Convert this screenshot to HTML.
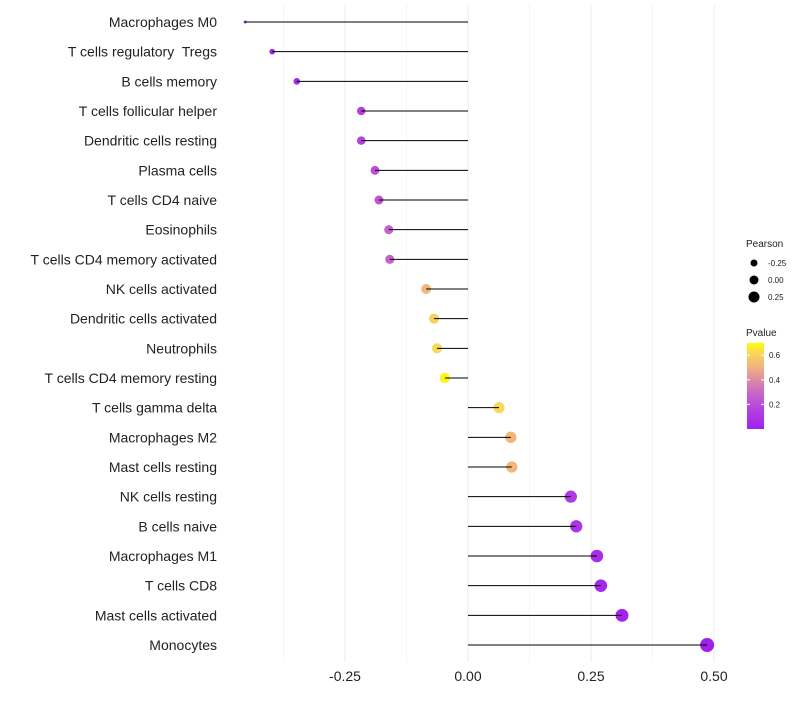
<!DOCTYPE html>
<html><head><meta charset="utf-8"><style>
body{margin:0;background:#fff;font-family:"Liberation Sans",sans-serif}
text{white-space:pre}
</style></head><body>
<svg id="chart" width="800" height="700" xmlns="http://www.w3.org/2000/svg"></svg>
<script>
const categories=["Macrophages M0","T cells regulatory  Tregs","B cells memory","T cells follicular helper","Dendritic cells resting","Plasma cells","T cells CD4 naive","Eosinophils","T cells CD4 memory activated","NK cells activated","Dendritic cells activated","Neutrophils","T cells CD4 memory resting","T cells gamma delta","Macrophages M2","Mast cells resting","NK cells resting","B cells naive","Macrophages M1","T cells CD8","Mast cells activated","Monocytes"];
const pearson=[-0.453,-0.398,-0.348,-0.217,-0.217,-0.189,-0.181,-0.161,-0.159,-0.085,-0.069,-0.063,-0.047,0.063,0.087,0.089,0.209,0.220,0.262,0.270,0.313,0.486];
const pvalues=[0.01,0.02,0.05,0.15,0.15,0.2,0.22,0.28,0.28,0.52,0.6,0.62,0.68,0.62,0.52,0.52,0.12,0.1,0.06,0.04,0.02,0.002];
const xTicks=[-0.25,0,0.25,0.5];
const xTickLabels=["-0.25","0.00","0.25","0.50"];
const NS="http://www.w3.org/2000/svg";
const svg=document.getElementById('chart');
const x=v=>468+v*492;
const y=i=>22+i*(623/21);
const rad=v=>1.5+5.5*Math.sqrt(Math.max(0,(v+0.453)/0.94));
const stops=[[0,[160,32,240]],[0.15,[180,64,224]],[0.3,[200,104,200]],[0.5,[240,176,128]],[0.62,[248,216,88]],[0.7,[255,255,0]]];
function col(p){for(let i=1;i<stops.length;i++){if(p<=stops[i][0]){const a=stops[i-1],b=stops[i];const t=(p-a[0])/(b[0]-a[0]);return 'rgb('+a[1].map((c,k)=>Math.round(c+(b[1][k]-c)*t)).join(',')+')';}}return 'rgb(255,255,0)';}
function mk(t,attrs,parent){const e=document.createElementNS(NS,t);for(const k in attrs)e.setAttribute(k,attrs[k]);(parent||svg).appendChild(e);return e;}
[-0.375,-0.25,-0.125,0,0.125,0.25,0.375,0.5].forEach(v=>{
 const g=mk('line',{x1:x(v),x2:x(v),y1:5,y2:662,stroke:'#ebebeb','stroke-width':v*8%2===0?1:0.5});
 
 
});
xTicks.forEach((v,i)=>{
 const t=mk('text',{x:x(v),y:681,'text-anchor':'middle','font-size':14,fill:'#222'});t.textContent=xTickLabels[i];
 
 
});
categories.forEach((c,i)=>{
 const t=mk('text',{x:217,y:y(i)+5,'text-anchor':'end','font-size':14,fill:'#222'});t.textContent=c;
 
 
 const d=mk('circle',{cx:x(pearson[i]),cy:y(i),r:rad(pearson[i]),fill:col(pvalues[i])});
 
 
 const l=mk('line',{x1:x(0),x2:x(pearson[i]),y1:y(i),y2:y(i),stroke:'#000','stroke-width':1});
 
 
});
const lt=mk('text',{x:746,y:247,'font-size':10,fill:'#222'});lt.textContent='Pearson';


[-0.25,0,0.25].forEach((v,i)=>{
 const c=mk('circle',{cx:754,cy:263+i*17,r:[3.5,4.5,5.5][i],fill:'#000'});
 
 
 const t=mk('text',{x:768,y:266+i*17,'font-size':8,fill:'#222'});t.textContent=['-0.25','0.00','0.25'][i];
 
 
});
const pt=mk('text',{x:746,y:336,'font-size':10,fill:'#222'});pt.textContent='Pvalue';


const defs=mk('defs',{});const lg=mk('linearGradient',{id:'pg',x1:0,y1:1,x2:0,y2:0},defs);
stops.forEach(s=>mk('stop',{offset:s[0]/0.7,'stop-color':'rgb('+s[1].join(',')+')'},lg));
const bar=mk('rect',{x:747,y:343,width:17,height:86,fill:'url(#pg)'});


[0.2,0.4,0.6].forEach(v=>{
 const yy=429-v*123;
 mk('line',{x1:747,x2:750,y1:yy,y2:yy,stroke:'#fff'});mk('line',{x1:761,x2:764,y1:yy,y2:yy,stroke:'#fff'});
 const t=mk('text',{x:769,y:yy+3,'font-size':8,fill:'#222'});t.textContent=v.toFixed(1);
 
 
});
</script>
</body></html>
